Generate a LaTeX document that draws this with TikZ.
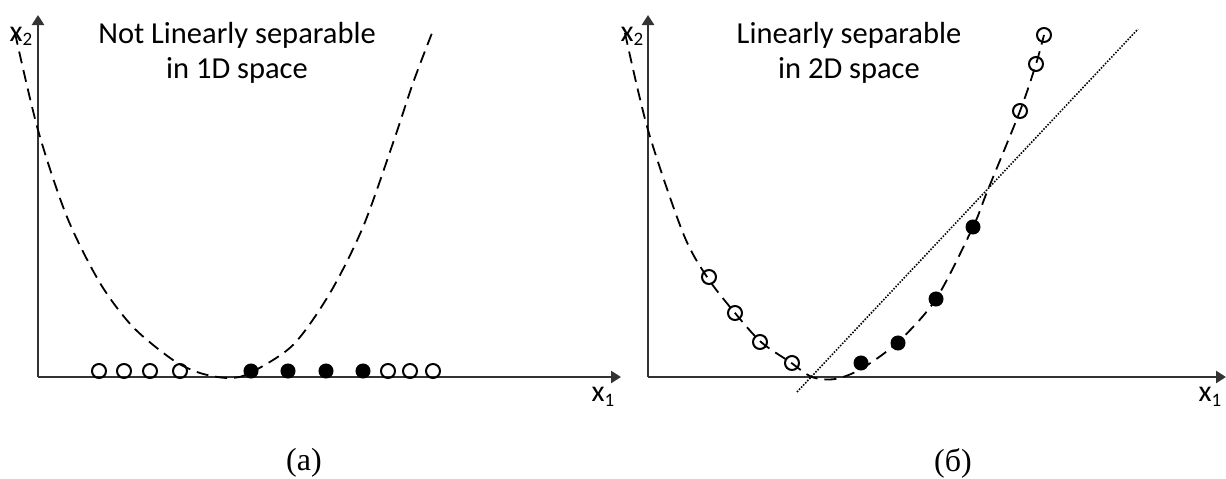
\documentclass[tikz,border=0pt]{standalone}
\usepackage{fontspec}
\setmainfont{Carlito}
\newfontfamily\capfont{Liberation Serif}
\usetikzlibrary{arrows.meta}
\tikzset{
  axis/.style={line width=2.5pt, draw=black!80, -{Triangle[length=10pt,width=12pt]}},
  curve/.style={line width=1.8pt, dash pattern=on 12pt off 7pt},
  sepline/.style={line width=1.6pt, dash pattern=on 1.5pt off 1.5pt},
  opendot/.style={circle, draw, line width=2pt, minimum size=14pt, inner sep=0pt},
  filldot/.style={circle, draw, fill=black, line width=1pt, minimum size=14pt, inner sep=0pt},
  ttl/.style={font=\fontsize{30.5}{35}\selectfont, anchor=base, inner sep=0pt},
  axlbl/.style={font=\fontsize{30}{30}\selectfont, anchor=base, inner sep=0pt},
  captxt/.style={font=\capfont\fontsize{32}{32}\selectfont, inner sep=0pt}
}
\newcommand{\subtwo}[1]{\raisebox{-5pt}{\fontsize{19}{19}\selectfont #1}}
\begin{document}
\begin{tikzpicture}[x=1pt,y=-1pt]
\useasboundingbox (0,0) rectangle (1226,479);
% ---------- panel (a) ----------
\coordinate (oa) at (38,377);
\coordinate (ya) at (38,15);
\coordinate (xa) at (621,377);
\draw[axis] (oa) -- (ya);
\draw[axis] (oa) -- (xa);
\node[axlbl] (x2a) at (21,41) {x\subtwo{2}};
\node[axlbl] (x1a) at (603,401) {x\subtwo{1}};
\node[ttl] (ta1) at (237,43) {Not Linearly separable};
\node[ttl] (ta2) at (237,78) {in 1D space};
\draw[curve] plot[smooth] coordinates {(15,33) (38,130) (67,217) (100,283) (133,327) (173,360) (200,373) (228,378) (250,373) (293,345) (330,293) (363,227) (393,143) (413,83) (432,33)};
\foreach \i/\x in {1/99,2/124,3/150,4/180,5/388,6/410,7/433}
  \node[opendot] (pa\i) at (\x,371) {};
\foreach \i/\x in {1/251,2/288,3/326,4/363}
  \node[filldot] (qa\i) at (\x,371) {};
\node[captxt] (capa) at (304,463) {(a)};
% ---------- panel (b) ----------
\coordinate (ob) at (648,377);
\coordinate (yb) at (648,15);
\coordinate (xb) at (1226,377);
\draw[axis] (ob) -- (yb);
\draw[axis] (ob) -- (xb);
\node[axlbl] (x2b) at (632,41) {x\subtwo{2}};
\node[axlbl] (x1b) at (1210,401) {x\subtwo{1}};
\node[ttl] (tb1) at (849,43) {Linearly separable};
\node[ttl] (tb2) at (849,78) {in 2D space};
\draw[curve] plot[smooth] coordinates {(625,33) (648,130) (683,233) (707,277) (735,313) (761,342) (790,362) (812,377) (835,379) (861,369) (898,342) (936,299) (973,227) (987,192) (1020,111) (1036,64) (1044,35)};
\coordinate (sa) at (797,392);
\coordinate (sb) at (1138,29);
\draw[sepline] (sa) -- (sb);
\foreach \i/\x/\y in {1/709/277,2/735/313,3/760/342,4/792/363,5/1020/111,6/1036/64,7/1044/35}
  \node[opendot] (pb\i) at (\x,\y) {};
\foreach \i/\x/\y in {1/861/363,2/898/343,3/936/299,4/973/227}
  \node[filldot] (qb\i) at (\x,\y) {};
\node[captxt] (capb) at (953,463) {(б)};
\end{tikzpicture}
\end{document}
